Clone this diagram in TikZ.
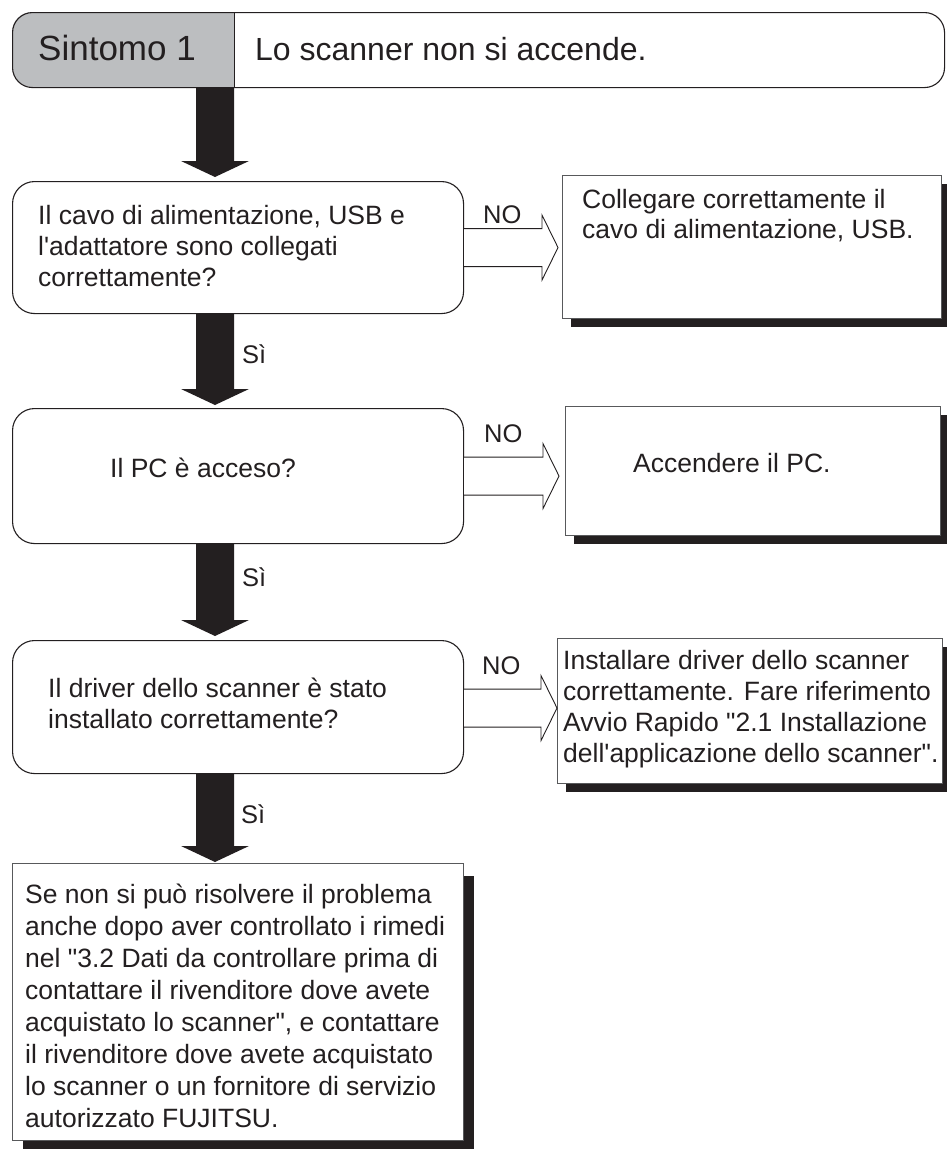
\documentclass[tikz,border=0pt]{standalone}
\usepackage{fontspec}
\setmainfont{Liberation Sans}
\usetikzlibrary{calc,shadows}
\definecolor{ink}{HTML}{231F20}
\definecolor{hdrgray}{HTML}{BCBEC0}
\definecolor{boxgray}{HTML}{58595B}
\newcommand\mlines[2]{\vtop{\baselineskip=#1pt\lineskiplimit=-100pt\lineskip=0pt #2}}
% block (filled) arrow: #1 start point, #2 tip point
\newcommand\blkarrow[2]{%
  \fill[blk] ($(#1)+(-19,0)$) -- ($(#2)+(-19,-16)$) -- ($(#2)+(-34,-16)$) -- (#2)
    -- ($(#2)+(34,-16)$) -- ($(#2)+(19,-16)$) -- ($(#1)+(19,0)$) -- cycle;}
% hollow arrow: #1 start point on box border, #2 tip point
\newcommand\holarrow[2]{%
  \draw[hol] ($(#1)+(0,-19)$) -- ($(#2)+(-16,-19)$) -- ($(#2)+(-16,-32.5)$) -- (#2)
    -- ($(#2)+(-16,32.5)$) -- ($(#2)+(-16,19)$) -- ($(#1)+(0,19)$);}
\begin{document}
\begin{tikzpicture}[x=1pt,y=-1pt,
  qbox/.style={draw=ink, line width=1.1pt, rounded corners=22pt, minimum width=451pt,
    inner sep=0pt, anchor=north west, fill=white},
  abox/.style={draw=boxgray, line width=1pt, fill=white, inner sep=0pt, anchor=north west,
    drop shadow={shadow xshift=8pt, shadow yshift=-8pt, fill=ink, opacity=1}},
  txt/.style={inner sep=0pt, anchor=base west, text=ink, font=\fontsize{26.5pt}{31.5pt}\selectfont},
  lbl/.style={inner sep=0pt, anchor=base west, text=ink, font=\fontsize{25.5pt}{30pt}\selectfont},
  blk/.style={fill=ink, draw=none},
  hol/.style={draw=ink, line width=0.9pt, fill=white, line join=miter},
]
\useasboundingbox (0,0) rectangle (946,1149);

% ---------- header ----------
\begin{scope}
  \clip (0,0) rectangle (234,100);
  \fill[hdrgray, rounded corners=20pt] (12,12) rectangle (944,87);
\end{scope}
\node[draw=ink, line width=1.1pt, rounded corners=20pt, minimum width=932pt,
      minimum height=75pt, inner sep=0pt, anchor=north west] (hdr) at (12,12) {};
\path (234,0) coordinate (divx);
\draw[ink, line width=1pt] (divx |- hdr.north) -- (divx |- hdr.south);
\node[inner sep=0pt, anchor=base west, text=ink, font=\fontsize{35pt}{40pt}\selectfont]
  (hdrA) at (38,60) {Sintomo 1};
\node[inner sep=0pt, anchor=base west, text=ink, font=\fontsize{32pt}{38pt}\selectfont]
  (hdrB) at (255,60) {Lo scanner non si accende.};

% ---------- question boxes ----------
\node[qbox, minimum height=132pt] (q1) at (12,181) {};
\node[qbox, minimum height=135pt] (q2) at (12,408) {};
\node[qbox, minimum height=133pt] (q3) at (12,640) {};

\node[txt] (q1t) at (38,224) {\mlines{31.3}{\hbox{Il cavo di alimentazione, USB e}\hbox{l\textquotesingle adattatore sono collegati}\hbox{correttamente?}}};
\node[txt] (q2t) at (110,477) {Il PC è acceso?};
\node[txt] (q3t) at (48,697) {\mlines{31}{\hbox{Il driver dello scanner è stato}\hbox{installato correttamente?}}};

% ---------- final box ----------
\node[draw=boxgray, line width=1pt, fill=white, inner sep=0pt, anchor=north west,
      minimum width=451pt, minimum height=277pt,
      drop shadow={shadow xshift=10pt, shadow yshift=-12pt, fill=ink, opacity=1}] (fin) at (12,863) {};
\node[txt] (fint) at (25,903) {\mlines{32}{%
  \hbox{Se non si può risolvere il problema}%
  \hbox{anche dopo aver controllato i rimedi}%
  \hbox{nel \textquotedbl 3.2 Dati da controllare prima di}%
  \hbox{contattare il rivenditore dove avete}%
  \hbox{acquistato lo scanner\textquotedbl, e contattare}%
  \hbox{il rivenditore dove avete acquistato}%
  \hbox{lo scanner o un fornitore di servizio}%
  \hbox{autorizzato FUJITSU.}}};

% ---------- action boxes ----------
\node[abox, minimum width=379pt, minimum height=143pt] (a1) at (562,175) {};
\node[abox, minimum width=375pt, minimum height=129pt] (a2) at (565,406) {};
\node[abox, minimum width=385pt, minimum height=145pt] (a3) at (557,638) {};

\node[txt] (a1t) at (582,208) {\mlines{30}{\hbox{Collegare correttamente il}\hbox{cavo di alimentazione, USB.}}};
\node[txt] (a2t) at (633,472) {Accendere il PC.};
\node[txt] (a3t) at (563,669) {\mlines{31}{%
  \hbox{Installare driver dello scanner}%
  \hbox{correttamente. Fare riferimento}%
  \hbox{Avvio Rapido \textquotedbl 2.1 Installazione}%
  \hbox{dell\textquotesingle applicazione dello scanner\textquotedbl.}}};

% ---------- block arrows (down) ----------
\path (215,0) coordinate (axis);
\path (axis |- hdr.south) coordinate (s1) ($(axis |- q1.north)+(0,-4)$) coordinate (t1);
\path (axis |- q1.south) coordinate (s2) ($(axis |- q2.north)+(0,-3)$) coordinate (t2);
\path (axis |- q2.south) coordinate (s3) ($(axis |- q3.north)+(0,-4)$) coordinate (t3);
\path (axis |- q3.south) coordinate (s4) ($(axis |- fin.north)+(0,-1)$) coordinate (t4);
\blkarrow{s1}{t1}
\blkarrow{s2}{t2}
\blkarrow{s3}{t3}
\blkarrow{s4}{t4}

\node[lbl] (si1) at (242,363) {Sì};
\node[lbl] (si2) at (242,586) {Sì};
\node[lbl] (si3) at (241,823) {Sì};

% ---------- hollow arrows (right) ----------
\path (558,0) coordinate (tipx);
\path (tipx |- q1.east) coordinate (h1);
\path ($(tipx |- q2.east)+(1,0)$) coordinate (h2);
\path ($(tipx |- q3.east)+(-1,1)$) coordinate (h3);
\holarrow{q1.east}{h1}
\holarrow{q2.east}{h2}
\holarrow{$(q3.east)+(0,1)$}{h3}

\node[lbl] (no1) at (483,223) {NO};
\node[lbl] (no2) at (484,442) {NO};
\node[lbl] (no3) at (482,674) {NO};
\end{tikzpicture}
\end{document}
